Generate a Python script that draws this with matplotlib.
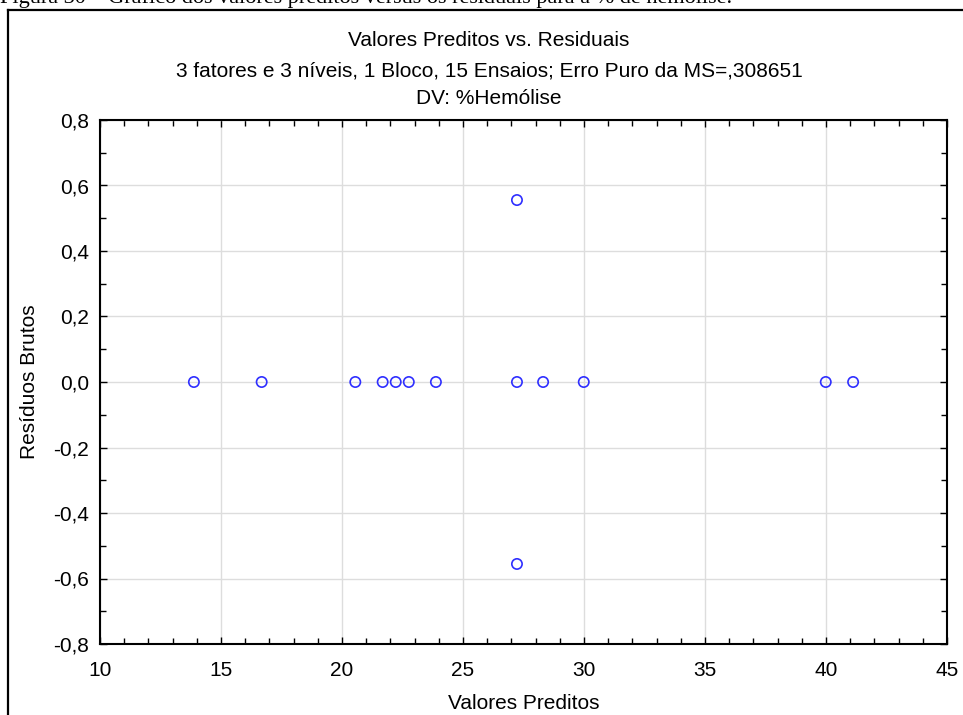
import matplotlib
matplotlib.use("Agg")
import matplotlib.pyplot as plt
from matplotlib.lines import Line2D
from matplotlib.ticker import MultipleLocator, FuncFormatter

plt.rcParams["font.family"] = ["Liberation Sans", "DejaVu Sans"]

# Predicted values and raw residuals (15 runs; center points at ~27.2)
predicted = [13.88, 16.68, 20.55, 21.68, 22.22, 22.76, 23.88,
             27.23, 27.23, 27.23, 28.31, 29.99, 39.99, 41.12]
residuals = [0.0, 0.0, 0.0, 0.0, 0.0, 0.0, 0.0,
             0.5556, 0.0, -0.5556, 0.0, 0.0, 0.0, 0.0]

title_lines = [
    "Valores Preditos vs. Residuais",
    "3 fatores e 3 níveis, 1 Bloco, 15 Ensaios; Erro Puro da MS=,308651",
    "DV: %Hemólise",
]
caption = "Figura 30 – Gráfico dos valores preditos versus os resíduais para a % de hemólise."

W, H = 963, 715
fig = plt.figure(figsize=(W / 100, H / 100), dpi=100)
ax = fig.add_axes([100 / W, 1 - 644 / H, 847 / W, 524 / H])

ax.scatter(predicted, residuals, s=55, facecolors="none",
           edgecolors="#2f2fff", linewidths=1.2, zorder=3)

ax.set_xlim(10, 45)
ax.set_ylim(-0.8, 0.8)
ax.xaxis.set_major_locator(MultipleLocator(5))
ax.xaxis.set_minor_locator(MultipleLocator(1))
ax.yaxis.set_major_locator(MultipleLocator(0.2))
ax.yaxis.set_minor_locator(MultipleLocator(0.1))

def comma_fmt(v, pos):
    s = f"{v:.1f}".replace(".", ",")
    return "0,0" if s == "-0,0" else s

ax.yaxis.set_major_formatter(FuncFormatter(comma_fmt))
ax.grid(True, which="major", color="#dddddd", linewidth=1.0, zorder=0)
ax.set_axisbelow(True)

ax.tick_params(which="both", direction="in", top=True, right=True,
               color="black", labelsize=15)
ax.tick_params(which="major", length=5, width=1)
ax.tick_params(which="minor", length=4, width=1)
ax.tick_params(axis="x", pad=12)
ax.tick_params(axis="y", pad=8)
for sp in ax.spines.values():
    sp.set_linewidth(1.5)
    sp.set_color("black")

ax.set_xlabel("Valores Preditos", fontsize=15, labelpad=10)
ax.set_ylabel("Resíduos Brutos", fontsize=15, labelpad=10)

for txt, ypx in zip(title_lines, [40, 71, 98]):
    fig.text(489 / W, 1 - ypx / H, txt, ha="center", va="center", fontsize=15)

# Caption above the framed panel
fig.text(0 / W, 1 - 3 / H, caption, ha="left", va="baseline",
         fontsize=16, family=["Liberation Serif", "DejaVu Serif"])

# Outer panel frame
fig.add_artist(Line2D([8 / W, 8 / W], [0, 1 - 10 / H], transform=fig.transFigure,
                      color="black", linewidth=1.6))
fig.add_artist(Line2D([8 / W, 1], [1 - 10 / H, 1 - 10 / H], transform=fig.transFigure,
                      color="black", linewidth=1.6))

fig.savefig("out.png", dpi=100)
